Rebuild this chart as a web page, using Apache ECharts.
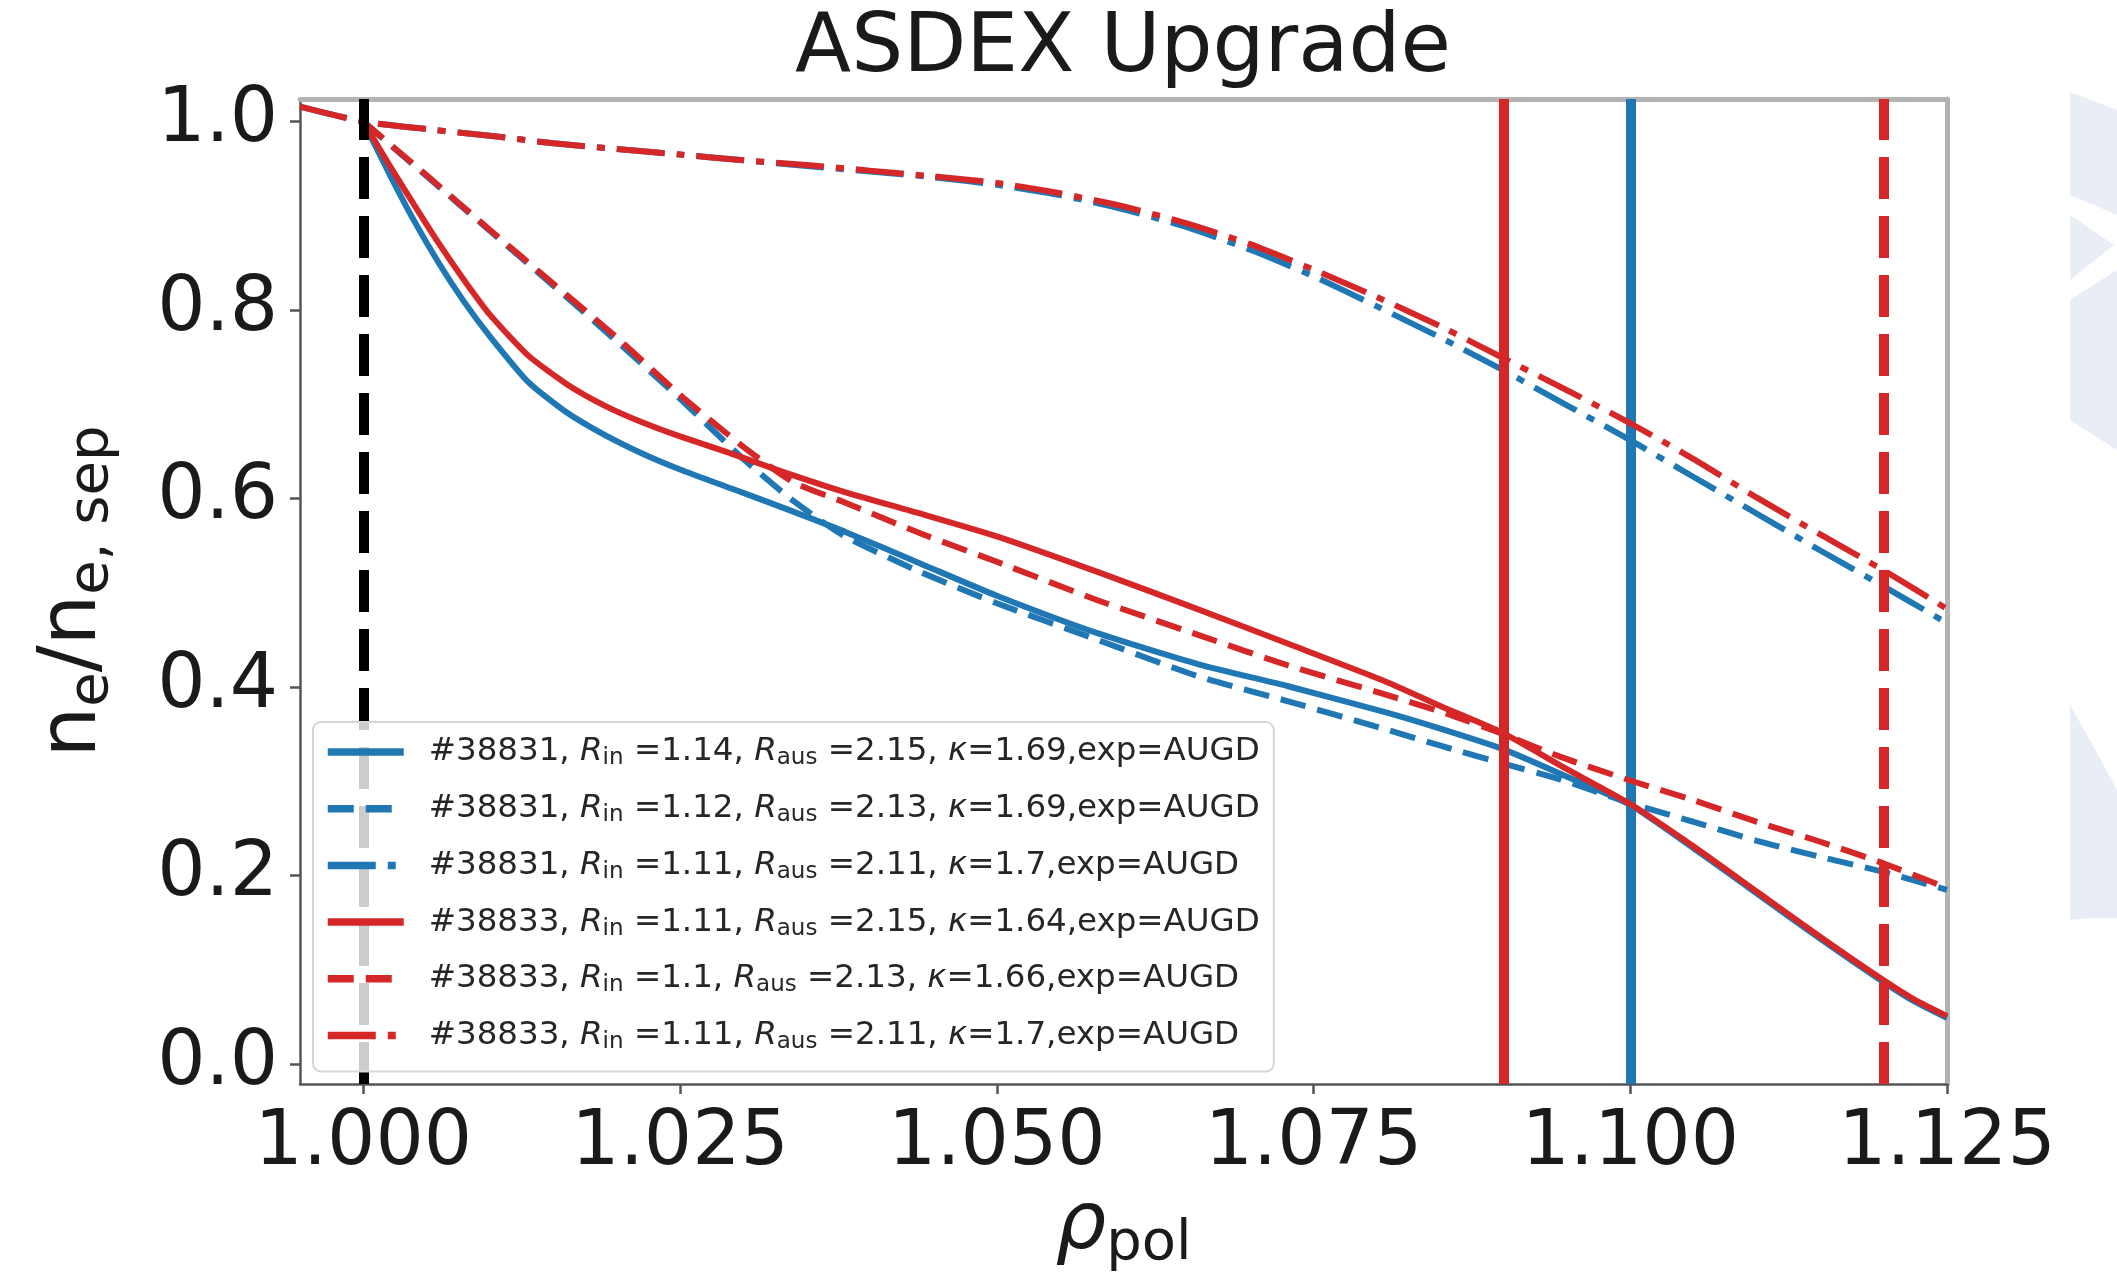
<!DOCTYPE html>
<html>
<head>
<meta charset="utf-8">
<title>ASDEX Upgrade</title>
<script src="https://cdn.jsdelivr.net/npm/echarts@6.0.0/dist/echarts.min.js"></script>
<style>
  html, body { margin: 0; padding: 0; background: #fff; }
  #chart { width: 2117px; height: 1282px; }
</style>
</head>
<body>
<div id="chart"></div>
<script>
// axis ticks
const xTicks = [1.000, 1.025, 1.050, 1.075, 1.100, 1.125];
const yTicks = [0.0, 0.2, 0.4, 0.6, 0.8, 1.0];

// legend entries: shot, R_in, R_aus, kappa
const shots = ['#38831', '#38831', '#38831', '#38833', '#38833', '#38833'];
const rIn = ['1.14', '1.12', '1.11', '1.11', '1.1', '1.11'];
const rAus = ['2.15', '2.13', '2.11', '2.15', '2.13', '2.11'];
const kappa = ['1.69', '1.69', '1.7', '1.64', '1.66', '1.7'];

// solid profiles
const rhoSolid = [1.000, 1.002, 1.004, 1.006, 1.008, 1.010, 1.013, 1.016, 1.019, 1.022, 1.025, 1.029, 1.033, 1.038, 1.044,
  1.050, 1.058, 1.066, 1.073, 1.0805, 1.085, 1.090, 1.095, 1.100, 1.105, 1.110, 1.115, 1.120, 1.1225, 1.125];
const neBlueSolid = [1.000, 0.946, 0.895, 0.849, 0.808, 0.772, 0.724, 0.692, 0.668, 0.648, 0.631, 0.611, 0.591, 0.565, 0.531,
  0.497, 0.457, 0.424, 0.401, 0.374, 0.356, 0.334, 0.305, 0.275, 0.229, 0.181, 0.133, 0.087, 0.066, 0.049];
const neRedSolid = [1.000, 0.955, 0.912, 0.870, 0.831, 0.795, 0.752, 0.722, 0.699, 0.681, 0.666, 0.648, 0.629, 0.607, 0.584,
  0.560, 0.522, 0.482, 0.446, 0.407, 0.380, 0.351, 0.313, 0.276, 0.231, 0.183, 0.135, 0.089, 0.068, 0.051];

// dashed profiles
const rhoDashed = [1.000, 1.005, 1.010, 1.015, 1.020, 1.025, 1.030, 1.034, 1.038, 1.044, 1.050, 1.058, 1.066, 1.073,
  1.0805, 1.0855, 1.090, 1.0945, 1.100, 1.105, 1.110, 1.115, 1.120, 1.125];
const neBlueDashed = [1.000, 0.942, 0.884, 0.826, 0.767, 0.706, 0.642, 0.597, 0.560, 0.522, 0.489, 0.450, 0.411, 0.385,
  0.356, 0.336, 0.319, 0.302, 0.277, 0.257, 0.237, 0.220, 0.204, 0.185];
const neRedDashed = [1.000, 0.943, 0.885, 0.828, 0.771, 0.710, 0.655, 0.617, 0.596, 0.563, 0.533, 0.492, 0.455, 0.423,
  0.393, 0.372, 0.350, 0.326, 0.301, 0.280, 0.257, 0.236, 0.213, 0.187];

// dash-dot profiles
const rhoDashDot = [0.995, 1.000, 1.005, 1.010, 1.015, 1.020, 1.025, 1.030, 1.035, 1.040, 1.045, 1.050, 1.055, 1.060,
  1.065, 1.070, 1.075, 1.080, 1.085, 1.090, 1.095, 1.100, 1.105, 1.110, 1.115, 1.120, 1.125];
const neBlueDashDot = [1.016, 1.000, 0.992, 0.985, 0.977, 0.971, 0.965, 0.959, 0.953, 0.947, 0.941, 0.933, 0.922, 0.907,
  0.888, 0.864, 0.836, 0.804, 0.771, 0.736, 0.699, 0.662, 0.623, 0.584, 0.545, 0.507, 0.468];
const neRedDashDot = [1.016, 1.000, 0.992, 0.985, 0.977, 0.971, 0.965, 0.959, 0.954, 0.948, 0.942, 0.935, 0.924, 0.910,
  0.892, 0.870, 0.843, 0.814, 0.783, 0.749, 0.715, 0.680, 0.642, 0.601, 0.562, 0.524, 0.483];

// vertical markers
const sepLine = 1.000;
const blueLine = 1.100;
const redLine = 1.090;
const redDashedLine = 1.120;

const BLUE = '#1f77b4';
const RED = '#d62728';
const FONT = 'DejaVu Sans';
const DASHED = [26, 12];
const DASHDOT = [48, 12, 8, 12];
const VDASHED = [42, 17];

function pairs(xs, ys) {
  return xs.map((x, i) => [x, ys[i]]);
}

const legendNames = shots.map((s, i) =>
  s + ', R_in =' + rIn[i] + ', R_aus =' + rAus[i] + ', κ=' + kappa[i] + ',exp=AUGD');
const legendRich = {};
legendNames.forEach((n, i) => {
  legendRich[n] = '{pad| }{t|' + shots[i] + ', }{i|R}{s|in}{t| =' + rIn[i] + ', }{i|R}{s|aus}{t| =' +
    rAus[i] + ', }{i|κ}{t|=' + kappa[i] + ',exp=AUGD}';
});

function curve(idx, xs, ys, color, type, z) {
  return {
    name: legendNames[idx],
    type: 'line',
    data: pairs(xs, ys),
    symbol: 'none',
    showSymbol: false,
    smooth: 0.2,
    silent: true,
    z: z,
    itemStyle: { color: color },
    lineStyle: { color: color, width: 6, type: type, cap: 'butt' }
  };
}

function vline(x, color, type, z) {
  return {
    type: 'line',
    data: [],
    silent: true,
    markLine: {
      silent: true,
      symbol: ['none', 'none'],
      label: { show: false },
      z: z,
      lineStyle: { color: color, width: 10, type: type, opacity: 1, cap: 'butt' },
      emphasis: { disabled: true },
      data: [{ xAxis: x }]
    }
  };
}

let myChart = echarts.init(document.getElementById('chart'), null, { renderer: 'canvas' });

const watermark = '#e8edf6';
const option = {
  animation: false,
  backgroundColor: '#ffffff',
  title: {
    text: 'ASDEX Upgrade',
    left: 1118,
    top: 4,
    textAlign: 'center',
    textStyle: { fontFamily: FONT, fontSize: 82, fontWeight: 'normal', color: '#1a1a1a' }
  },
  graphic: [
    { type: 'polygon', z: -10, shape: { points: [[2070, 92], [2117, 110], [2117, 215], [2070, 195]] }, style: { fill: watermark } },
    { type: 'polygon', z: -10, shape: { points: [[2070, 215], [2114, 245], [2070, 280]] }, style: { fill: watermark } },
    { type: 'polygon', z: -10, shape: { points: [[2117, 270], [2070, 300], [2070, 420], [2117, 450]] }, style: { fill: watermark } },
    { type: 'polygon', z: -10, shape: { points: [[2070, 705], [2090, 740], [2117, 790], [2117, 918], [2090, 918], [2070, 920]] }, style: { fill: watermark } }
  ],
  grid: { left: 300, right: 170, top: 99, bottom: 198, containLabel: false, outerBoundsMode: 'none' },
  legend: {
    orient: 'vertical',
    left: 313,
    top: 722,
    data: legendNames,
    itemWidth: 76,
    itemHeight: 20,
    itemGap: 20.7,
    padding: [12, 14, 18, 11],
    backgroundColor: 'rgba(255,255,255,0.8)',
    borderColor: '#d6d6d6',
    borderWidth: 2,
    borderRadius: 8,
    selectedMode: false,
    z: 10,
    itemStyle: { opacity: 0 },
    lineStyle: { width: 7.5 },
    formatter: function (n) { return legendRich[n]; },
    textStyle: {
      fontFamily: FONT,
      fontSize: 32.5,
      color: '#262626',
      lineHeight: 36,
      rich: {
        pad: { width: 20, fontSize: 32.5, lineHeight: 36 },
        t: { fontFamily: FONT, fontSize: 32.5, lineHeight: 36, color: '#262626' },
        i: { fontFamily: FONT, fontSize: 32.5, lineHeight: 36, fontStyle: 'italic', color: '#262626' },
        s: { fontFamily: FONT, fontSize: 23, lineHeight: 18, verticalAlign: 'bottom', color: '#262626' }
      }
    }
  },
  xAxis: [
    {
      type: 'value',
      min: 0.995,
      max: 1.125,
      name: '{r|ρ}{s|pol}',
      nameLocation: 'middle',
      nameGap: 76,
      nameTextStyle: {
        rich: {
          r: { fontFamily: FONT, fontSize: 80, lineHeight: 92, fontStyle: 'italic', color: '#1a1a1a' },
          s: { fontFamily: FONT, fontSize: 56, lineHeight: 50, verticalAlign: 'bottom', color: '#1a1a1a' }
        }
      },
      axisLine: { show: true, onZero: false, lineStyle: { color: '#555555', width: 2.5 } },
      axisTick: { show: true, customValues: xTicks, length: 10, lineStyle: { color: '#555555', width: 2.5 } },
      axisLabel: {
        customValues: xTicks,
        margin: 22,
        fontFamily: FONT,
        fontSize: 76,
        color: '#1a1a1a',
        formatter: function (v) { return v.toFixed(3); }
      },
      splitLine: { show: false }
    },
    {
      type: 'value',
      position: 'top',
      min: 0.995,
      max: 1.125,
      axisLine: { show: true, onZero: false, lineStyle: { color: '#b3b3b3', width: 5 } },
      axisTick: { show: false },
      axisLabel: { show: false },
      splitLine: { show: false }
    }
  ],
  yAxis: [
    {
      type: 'value',
      min: -0.021,
      max: 1.024,
      name: '{m|n}{s|e}{m|/n}{s|e, sep}',
      nameLocation: 'middle',
      nameRotate: 90,
      nameGap: 180,
      nameTextStyle: {
        rich: {
          m: { fontFamily: FONT, fontSize: 80, lineHeight: 92, color: '#1a1a1a' },
          s: { fontFamily: FONT, fontSize: 56, lineHeight: 50, verticalAlign: 'bottom', color: '#1a1a1a' }
        }
      },
      axisLine: { show: true, onZero: false, lineStyle: { color: '#555555', width: 2.5 } },
      axisTick: { show: true, customValues: yTicks, length: 10, lineStyle: { color: '#555555', width: 2.5 } },
      axisLabel: {
        customValues: yTicks,
        margin: 22,
        fontFamily: FONT,
        fontSize: 76,
        color: '#1a1a1a',
        formatter: function (v) { return v.toFixed(1); }
      },
      splitLine: { show: false }
    },
    {
      type: 'value',
      position: 'right',
      min: -0.021,
      max: 1.024,
      axisLine: { show: true, onZero: false, lineStyle: { color: '#b3b3b3', width: 5 } },
      axisTick: { show: false },
      axisLabel: { show: false },
      splitLine: { show: false }
    }
  ],
  series: [
    curve(0, rhoSolid, neBlueSolid, BLUE, 'solid', 2),
    curve(1, rhoDashed, neBlueDashed, BLUE, DASHED, 2),
    curve(2, rhoDashDot, neBlueDashDot, BLUE, DASHDOT, 2),
    vline(blueLine, BLUE, 'solid', 3),
    curve(3, rhoSolid, neRedSolid, RED, 'solid', 4),
    curve(4, rhoDashed, neRedDashed, RED, DASHED, 4),
    curve(5, rhoDashDot, neRedDashDot, RED, DASHDOT, 4),
    vline(redLine, RED, 'solid', 5),
    vline(redDashedLine, RED, VDASHED, 5),
    vline(sepLine, '#000000', VDASHED, 6)
  ]
};

myChart.setOption(option);
</script>
</body>
</html>
